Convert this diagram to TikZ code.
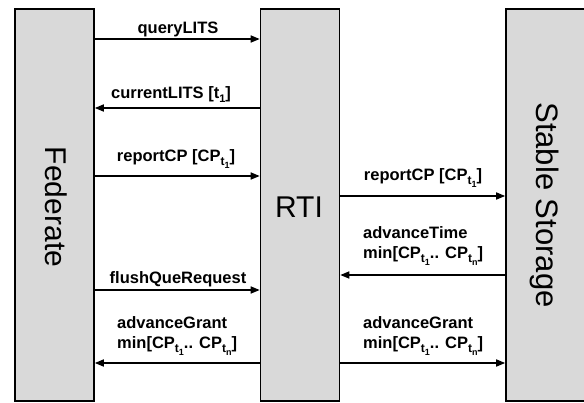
\documentclass[tikz,border=0pt]{standalone}
\usepackage{fontspec}
\setmainfont{Liberation Sans}
\usetikzlibrary{arrows.meta}
\definecolor{boxgray}{RGB}{217,217,217}
\newcommand{\subt}[1]{\raisebox{-4pt}{\fontsize{12}{12}\selectfont t\raisebox{-3pt}{\fontsize{9}{9}\selectfont #1}}}
\newcommand{\subone}[1]{\raisebox{-4pt}{\fontsize{11}{11}\selectfont #1}}
\tikzset{
  lane/.style={draw=black, fill=boxgray, line width=1.6pt, rectangle, inner sep=0pt, minimum width=79pt, minimum height=392pt},
  lanetext/.style={font=\fontsize{30}{30}\selectfont, inner sep=0pt},
  msg/.style={line width=1.6pt, -{Triangle[length=9pt,width=7pt]}},
  lbl/.style={font=\bfseries\fontsize{16.5}{18}\selectfont, inner sep=0pt}
}
\begin{document}
\begin{tikzpicture}[x=1pt,y=-1pt]
\useasboundingbox (0,0) rectangle (584,402);
\begin{scope}
\clip (0,0) rectangle (584,402);
\node[lane] (fed) at (54.5,205) {};
\node[lane] (rti) at (300,205) {};
\node[lane] (ss) at (545.5,205) {};
\node[lanetext, rotate=-90] (fedl) at (56,207) {Federate};
\node[lanetext] (rtil) at (299,207) {RTI};
\node[lanetext, rotate=-90] (ssl) at (545,205) {\fontsize{31}{31}\selectfont Stable Storage};

% Federate <-> RTI
\draw[msg] (fed.east |- 0,39) -- (rti.west |- 0,39);
\node[lbl, anchor=base] (l1) at (178,33.5) {queryLITS};
\draw[msg] (rti.west |- 0,108) -- (fed.east |- 0,108);
\node[lbl, anchor=base] (l2) at (171,98) {currentLITS [t\subone{1}]};
\draw[msg] (fed.east |- 0,176) -- (rti.west |- 0,176);
\node[lbl, anchor=base] (l3) at (176,161) {reportCP [CP\subt{1}]};
\draw[msg] (fed.east |- 0,290) -- (rti.west |- 0,290);
\node[lbl, anchor=base] (l4) at (178,283) {flushQueRequest};
\draw[msg] (rti.west |- 0,363) -- (fed.east |- 0,363);
\node[lbl, anchor=base west] (l5a) at (117,328) {advanceGrant};
\node[lbl, anchor=base west] (l5b) at (117,348) {min[CP\subt{1}.. CP\subt{n}]};

% RTI <-> Stable Storage
\draw[msg] (rti.east |- 0,196) -- (ss.west |- 0,196);
\node[lbl, anchor=base] (r1) at (423,180) {reportCP [CP\subt{1}]};
\draw[msg] (ss.west |- 0,275) -- (rti.east |- 0,275);
\node[lbl, anchor=base west] (r2a) at (363,238) {advanceTime};
\node[lbl, anchor=base west] (r2b) at (363,258) {min[CP\subt{1}.. CP\subt{n}]};
\draw[msg] (rti.east |- 0,363) -- (ss.west |- 0,363);
\node[lbl, anchor=base west] (r3a) at (363,328) {advanceGrant};
\node[lbl, anchor=base west] (r3b) at (363,348) {min[CP\subt{1}.. CP\subt{n}]};
\end{scope}
\end{tikzpicture}
\end{document}
